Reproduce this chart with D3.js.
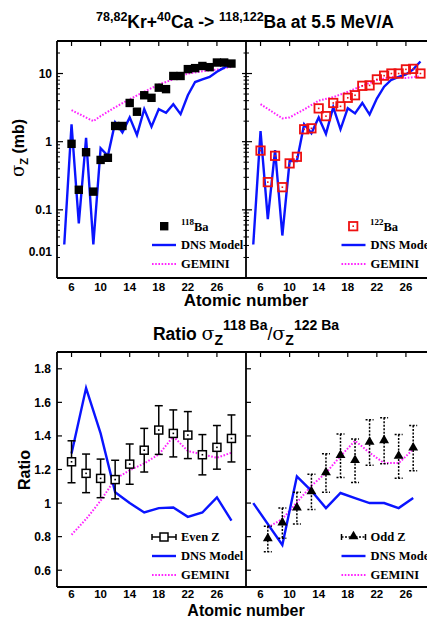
<!DOCTYPE html>
<html>
<head>
  <title>Kr+Ca -> Ba</title>
  <style>
    body { margin: 0; background: #fff; }
    svg text { font-family: "Liberation Sans", Arial, sans-serif; }
    .leg { font-family: "Liberation Serif", "Times New Roman", serif; font-weight: bold; font-size: 12.5px; }
  </style>
</head>
<body>
<svg width="427" height="619" class="chart"></svg>
<script src="https://cdnjs.cloudflare.com/ajax/libs/d3/7.8.5/d3.min.js"></script>
<script>
  // ---- cross sections (mb) ----
  var z118 = [6,7,8,9,10,11,12,13,14,15,16,17,18,19,20,21,22,23,24,25,26,27,28]
  var sig118 = [0.93,0.197,0.7,0.185,0.54,0.58,1.7,1.7,3.7,2.75,4.8,4.4,6.2,5.9,9.2,9.2,11.6,12,12.9,12.4,14.5,14.5,14]
  var dnsZ118 = [5,6,7,8,9,10,11,12,13,14,15,16,17,18,19,20,21,22,23,24,25,26,27,28]
  var dns118 = [0.031,1.8,0.063,1.14,0.031,0.8,0.62,1.92,1.37,2.27,1.25,3.0,1.66,3.0,2.65,3.55,2.54,4.8,7.5,8.2,8.9,10.6,12.2,14]
  var gemZ118 = [6,9,10,12,14,16,18,20,22,24,26,28]
  var gem118 = [2.9,2.0,2.37,3.2,4.2,5.4,6.9,8.2,10,10.8,11.4,12.5]

  var z122 = [6,7,8,9,10,11,12,13,14,15,16,17,18,19,20,21,22,23,24,25,26,27,28]
  var sig122 = [0.74,0.255,0.62,0.215,0.48,0.6,1.52,1.57,3.08,2.37,3.7,3.3,4.4,4.8,6.6,6.7,8.2,9.3,10,10,11.5,11.7,10]
  var dnsZ122 = [5,6,7,8,9,10,11,12,13,14,15,16,17,18,19,20,21,22,23,24,25,26,27,28]
  var dns122 = [0.031,1.43,0.073,0.75,0.042,0.52,0.52,1.8,1.33,2.27,1.3,3.2,1.52,3.1,2.6,3.7,2.5,4.3,6.4,8.1,8.9,9.7,11.5,15]
  var gemZ122 = [6,9,10,12,14,16,18,20,22,24,26,28]
  var gem122 = [3.55,2.2,2.27,2.97,4.0,4.5,5.4,6.6,8,8.9,8.6,9.1]

  // ---- ratios ----
  var zEven = [6,8,10,12,14,16,18,20,22,24,26,28]
  var ratioEven = [1.246,1.177,1.147,1.14,1.232,1.315,1.435,1.415,1.405,1.288,1.332,1.385]
  var errEven = [0.125,0.115,0.115,0.115,0.12,0.13,0.145,0.14,0.14,0.12,0.13,0.14]
  var dnsZEven = [6,8,10,12,14,16,18,20,22,24,26,28]
  var dnsEven = [1.296,1.685,1.415,1.064,1.0,0.944,0.97,0.974,0.918,0.944,1.034,0.895]
  var gemZEven = [6,8,10,12,14,16,18,20,22,24,26,28]
  var gemEven = [0.811,0.905,1.014,1.143,1.196,1.236,1.29,1.397,1.31,1.29,1.27,1.30]

  var zOdd = [7,9,11,13,15,17,19,21,23,25,27]
  var ratioOdd = [0.786,0.881,0.97,1.067,1.179,1.282,1.252,1.361,1.371,1.278,1.327]
  var errOdd = [0.076,0.09,0.095,0.105,0.115,0.13,0.13,0.135,0.137,0.13,0.135]
  var dnsZOdd = [5,9,11,13,15,17,19,21,23,25,27]
  var dnsOdd = [1.0,0.75,1.159,1.073,0.97,1.06,1.03,1.0,1.0,0.97,1.03]
  var gemZOdd = [7,9,11,13,15,17,19,21,23,25,27]
  var gemOdd = [0.855,0.905,1.004,1.103,1.18,1.28,1.371,1.30,1.238,1.238,1.32]

  var xTicks = [6,10,14,18,22,26]
  var logTicks = [0.01,0.1,1,10]
  var ratioTicks = [0.6,0.8,1,1.2,1.4,1.6,1.8]

  var BLUE = '#0a14ff', MAG = '#ff22ff', RED = '#ee1111'

  var svg = d3.select('.chart')

  var xL = d3.scaleLinear().domain([4,30]).range([57,246])
  var xR = d3.scaleLinear().domain([4,30]).range([246,435])
  var yTop = d3.scaleLog().domain([0.01,30]).range([278,41])
  var yBot = d3.scaleLinear().domain([0.5,1.9]).range([587,352])

  function pts(zs, vs){ return zs.map(function(z,i){ return [z, vs[i]] }) }

  function frame(g, x, y){
    var x0 = x.range()[0], x1 = x.range()[1], y0 = y.range()[0], y1 = y.range()[1]
    g.append('path').attr('d', 'M'+x0+','+y1+'H'+x1+'M'+x0+','+y0+'H'+x1+'M'+x0+','+y1+'V'+y0)
      .attr('stroke','#000').attr('stroke-width',1.8).attr('fill','none')
    // top ticks pointing down
    g.selectAll('.tt').data(xTicks).enter().append('line')
      .attr('x1', x).attr('x2', x).attr('y1', y1).attr('y2', y1+5)
      .attr('stroke','#000').attr('stroke-width',1.2)
  }

  function curve(g, x, y, data, color, dash){
    var line = d3.line().x(function(d){ return x(d[0]) }).y(function(d){ return y(d[1]) })
    g.append('path').datum(data).attr('d', line).attr('fill','none')
      .attr('stroke', color).attr('stroke-width', dash ? 2 : 2.4)
      .attr('stroke-dasharray', dash ? '1.6,1.6' : null)
      .attr('stroke-linejoin','miter')
  }

  function xAxisLabels(g, x, y0, off){
    g.selectAll('.xl').data(xTicks).enter().append('text')
      .attr('x', x).attr('y', y0+off).attr('text-anchor','middle')
      .attr('font-size', 11.5).attr('font-weight','bold').text(function(d){ return d })
  }

  // ===== top panels =====
  var gT = svg.append('g')
  function logTicksFor(g, xpos, both){
    var minors = []
    ;[0.01,0.1,1,10].forEach(function(dec){
      for (var k = 2; k <= 9; k++){ if (dec*k <= 30) minors.push(dec*k) }
    })
    g.selectAll(null).data(logTicks).enter().append('line')
      .attr('x1', xpos - (both ? 4 : 0)).attr('x2', xpos+6)
      .attr('y1', yTop).attr('y2', yTop).attr('stroke','#000').attr('stroke-width',1.2)
    g.selectAll(null).data(minors).enter().append('line')
      .attr('x1', xpos - (both ? 2.5 : 0)).attr('x2', xpos+3)
      .attr('y1', yTop).attr('y2', yTop).attr('stroke','#000').attr('stroke-width',1)
  }

  // left top
  var gTL = gT.append('g')
  frame(gTL, xL, yTop)
  logTicksFor(gTL, 57, false)
  curve(gTL, xL, yTop, pts(gemZ118, gem118), MAG, true)
  curve(gTL, xL, yTop, pts(dnsZ118, dns118), BLUE, false)
  gTL.selectAll('.sq').data(pts(z118, sig118)).enter().append('rect')
    .attr('x', function(d){ return xL(d[0])-4.2 }).attr('y', function(d){ return yTop(d[1])-4.2 })
    .attr('width', 8.4).attr('height', 8.4).attr('fill','#000')
  gTL.selectAll('.yl').data(logTicks).enter().append('text')
    .attr('x', 52).attr('y', function(d){ return d === 0.01 ? 256 : yTop(d)+4.5 })  // 0.01 label sits above the corner
    .attr('text-anchor','end').attr('font-size',12).attr('font-weight','bold')
    .text(function(d){ return d })
  xAxisLabels(gTL, xL, 278, 12.5)

  // right top
  var gTR = gT.append('g')
  frame(gTR, xR, yTop)
  logTicksFor(gTR, 246, true)
  curve(gTR, xR, yTop, pts(gemZ122, gem122), MAG, true)
  curve(gTR, xR, yTop, pts(dnsZ122, dns122), BLUE, false)
  var rs = gTR.selectAll('.rs').data(pts(z122, sig122)).enter().append('g')
    .attr('transform', function(d){ return 'translate('+xR(d[0])+','+yTop(d[1])+')' })
  rs.append('rect').attr('x',-4.2).attr('y',-4.2).attr('width',8.4).attr('height',8.4)
    .attr('fill','none').attr('stroke',RED).attr('stroke-width',1.8)
  rs.append('rect').attr('x',-0.8).attr('y',-0.8).attr('width',1.6).attr('height',1.6).attr('fill',RED)
  xAxisLabels(gTR, xR, 278, 12.5)

  // top legends
  function legendLines(g, x0, y0){
    g.append('line').attr('x1',x0).attr('x2',x0+24).attr('y1',y0+19).attr('y2',y0+19)
      .attr('stroke',BLUE).attr('stroke-width',2.4)
    g.append('text').attr('class','leg').attr('x',x0+29).attr('y',y0+23).text('DNS Model')
    g.append('line').attr('x1',x0).attr('x2',x0+24).attr('y1',y0+38).attr('y2',y0+38)
      .attr('stroke',MAG).attr('stroke-width',2).attr('stroke-dasharray','1.6,1.6')
    g.append('text').attr('class','leg').attr('x',x0+29).attr('y',y0+42).text('GEMINI')
  }
  gTL.append('rect').attr('x',160).attr('y',222).attr('width',8.4).attr('height',8.4).attr('fill','#000')
  var t1 = gTL.append('text').attr('class','leg').attr('x',181).attr('y',231)
  t1.append('tspan').attr('font-size',9).attr('dy',-6).text('118')
  t1.append('tspan').attr('dy',6).text('Ba')
  legendLines(gTL, 152, 226)

  gTR.append('rect').attr('x',349).attr('y',222).attr('width',8.4).attr('height',8.4)
    .attr('fill','none').attr('stroke',RED).attr('stroke-width',1.8)
  gTR.append('rect').attr('x',352.4).attr('y',225.4).attr('width',1.6).attr('height',1.6).attr('fill',RED)
  var t2 = gTR.append('text').attr('class','leg').attr('x',370).attr('y',231)
  t2.append('tspan').attr('font-size',9).attr('dy',-6).text('122')
  t2.append('tspan').attr('dy',6).text('Ba')
  legendLines(gTR, 341.5, 226)

  // titles / axis labels (top)
  var title = svg.append('text').attr('x',245).attr('y',28).attr('text-anchor','middle')
    .attr('font-size',17.5).attr('font-weight','bold')
  title.append('tspan').attr('font-size',12.5).attr('dy',-7).text('78,82')
  title.append('tspan').attr('dy',7).text('Kr+')
  title.append('tspan').attr('font-size',12.5).attr('dy',-7).text('40')
  title.append('tspan').attr('dy',7).text('Ca -> ')
  title.append('tspan').attr('font-size',12.5).attr('dy',-7).text('118,122')
  title.append('tspan').attr('dy',7).text('Ba at 5.5 MeV/A')

  var ylab = svg.append('text').attr('transform','translate(24,148) rotate(-90)')
    .attr('text-anchor','middle').attr('font-size',16).attr('font-weight','bold')
  ylab.append('tspan').attr('font-family','"DejaVu Serif", serif').attr('font-weight','normal').attr('font-size',18).text('σ')
  ylab.append('tspan').attr('font-size',11).attr('dy',4).text('Z')
  ylab.append('tspan').attr('dy',-4).text(' (mb)')

  svg.append('text').attr('x',246).attr('y',306).attr('text-anchor','middle')
    .attr('font-size',17).attr('font-weight','bold').text('Atomic number')

  // ===== bottom panels =====
  function ratioTicksFor(g, xpos){
    g.selectAll(null).data(ratioTicks).enter().append('line')
      .attr('x1', xpos).attr('x2', xpos+5).attr('y1', yBot).attr('y2', yBot)
      .attr('stroke','#000').attr('stroke-width',1.2)
  }
  function errBars(g, x, zs, vs, es, dashed){
    var d = pts(zs, vs).map(function(p,i){ return [p[0], p[1], es[i]] })
    var eg = g.selectAll(null).data(d).enter().append('g')
      .attr('stroke','#000').attr('stroke-width', 1.5)
      .attr('stroke-dasharray', dashed ? '2,1.5' : null)
    eg.append('line').attr('x1', function(p){ return x(p[0]) }).attr('x2', function(p){ return x(p[0]) })
      .attr('y1', function(p){ return yBot(p[1]+p[2]) }).attr('y2', function(p){ return yBot(p[1]-p[2]) })
    eg.append('line').attr('x1', function(p){ return x(p[0])-4 }).attr('x2', function(p){ return x(p[0])+4 })
      .attr('y1', function(p){ return yBot(p[1]+p[2]) }).attr('y2', function(p){ return yBot(p[1]+p[2]) })
    eg.append('line').attr('x1', function(p){ return x(p[0])-4 }).attr('x2', function(p){ return x(p[0])+4 })
      .attr('y1', function(p){ return yBot(p[1]-p[2]) }).attr('y2', function(p){ return yBot(p[1]-p[2]) })
  }
  var tri = d3.symbol().type(d3.symbolTriangle).size(42)

  // left bottom
  var gBL = svg.append('g')
  frame(gBL, xL, yBot)
  ratioTicksFor(gBL, 57)
  curve(gBL, xL, yBot, pts(gemZEven, gemEven), MAG, true)
  curve(gBL, xL, yBot, pts(dnsZEven, dnsEven), BLUE, false)
  errBars(gBL, xL, zEven, ratioEven, errEven, false)
  var es = gBL.selectAll('.es').data(pts(zEven, ratioEven)).enter().append('g')
    .attr('transform', function(d){ return 'translate('+xL(d[0])+','+yBot(d[1])+')' })
  es.append('rect').attr('x',-4).attr('y',-4).attr('width',8).attr('height',8)
    .attr('fill','#fff').attr('stroke','#000').attr('stroke-width',1.5)
  es.append('rect').attr('x',-0.8).attr('y',-0.8).attr('width',1.6).attr('height',1.6).attr('fill','#000')
  gBL.selectAll('.yl').data(ratioTicks).enter().append('text')
    .attr('x', 51).attr('y', function(d){ return yBot(d)+4.5 })
    .attr('text-anchor','end').attr('font-size',12).attr('font-weight','bold')
    .text(function(d){ return d3.format('~g')(d) })
  xAxisLabels(gBL, xL, 587, 11)

  // right bottom
  var gBR = svg.append('g')
  frame(gBR, xR, yBot)
  ratioTicksFor(gBR, 246)
  curve(gBR, xR, yBot, pts(gemZOdd, gemOdd), MAG, true)
  curve(gBR, xR, yBot, pts(dnsZOdd, dnsOdd), BLUE, false)
  errBars(gBR, xR, zOdd, ratioOdd, errOdd, true)
  gBR.selectAll('.tr').data(pts(zOdd, ratioOdd)).enter().append('path')
    .attr('d', tri).attr('fill','#000')
    .attr('transform', function(d){ return 'translate('+xR(d[0])+','+(yBot(d[1])-0.5)+')' })
  xAxisLabels(gBR, xR, 587, 11)

  // bottom legends
  function legendBottom(g, x0, marker, label, dashed){
    var yl = 537
    g.append('line').attr('x1',x0).attr('x2',x0+24).attr('y1',yl).attr('y2',yl)
      .attr('stroke','#000').attr('stroke-width',1.5).attr('stroke-dasharray', dashed ? '2,1.5' : null)
    g.append('line').attr('x1',x0).attr('x2',x0).attr('y1',yl-3).attr('y2',yl+3).attr('stroke','#000').attr('stroke-width',1.5)
    g.append('line').attr('x1',x0+24).attr('x2',x0+24).attr('y1',yl-3).attr('y2',yl+3).attr('stroke','#000').attr('stroke-width',1.5)
    if (marker === 'sq'){
      g.append('rect').attr('x',x0+8).attr('y',yl-4).attr('width',8).attr('height',8)
        .attr('fill','#fff').attr('stroke','#000').attr('stroke-width',1.5)
    } else {
      g.append('path').attr('d', tri).attr('fill','#000').attr('transform','translate('+(x0+12)+','+(yl-0.5)+')')
    }
    g.append('text').attr('class','leg').attr('x',x0+29).attr('y',yl+4).text(label)
    legendLines(g, x0, yl)
  }
  legendBottom(gBL, 152, 'sq', 'Even Z', false)
  legendBottom(gBR, 341.5, 'tri', 'Odd Z', true)

  // ratio title
  var rt = svg.append('text').attr('x',246).attr('y',340).attr('text-anchor','middle')
    .attr('font-size',17.5).attr('font-weight','bold')
  rt.append('tspan').text('Ratio ')
  rt.append('tspan').attr('font-family','"DejaVu Serif", serif').attr('font-weight','normal').attr('font-size',19).text('σ')
  rt.append('tspan').attr('font-size',14).attr('dy',5).text('Z')
  rt.append('tspan').attr('font-size',14).attr('dy',-15).text('118 Ba')
  rt.append('tspan').attr('dy',10).attr('font-weight','normal').text('/')
  rt.append('tspan').attr('font-family','"DejaVu Serif", serif').attr('font-weight','normal').attr('font-size',19).text('σ')
  rt.append('tspan').attr('font-size',14).attr('dy',5).text('Z')
  rt.append('tspan').attr('font-size',14).attr('dy',-15).text('122 Ba')

  svg.append('text').attr('transform','translate(30,470) rotate(-90)')
    .attr('text-anchor','middle').attr('font-size',16).attr('font-weight','bold').text('Ratio')

  svg.append('text').attr('x',246).attr('y',615.5).attr('text-anchor','middle')
    .attr('font-size',16).attr('font-weight','bold').text('Atomic number')
</script>
</body>
</html>
